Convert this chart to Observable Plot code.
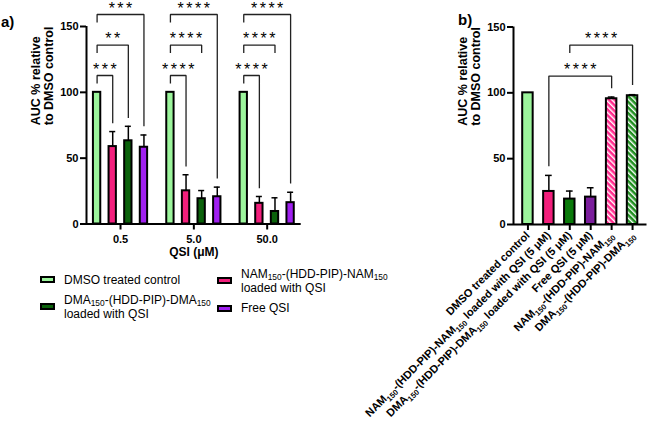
<!DOCTYPE html>
<html>
<head>
<meta charset="utf-8">
<script src="https://cdn.jsdelivr.net/npm/d3@7"></script>
<script src="https://cdn.jsdelivr.net/npm/@observablehq/plot@0.6"></script>
<style>
html, body { margin: 0; padding: 0; background: #fff; }
#wrap { position: relative; width: 649px; height: 421px; overflow: hidden; font-family: "Liberation Sans", Arial, sans-serif; color: #000; }
.panel { position: absolute; top: 0; }
.plab { position: absolute; font-weight: bold; font-size: 15px; line-height: 15px; }
.litem { position: absolute; height: 32px; display: flex; align-items: center; }
.sw { width: 15px; height: 7px; border: 2px solid #000; box-sizing: border-box; margin-right: 9px; flex: none; }
.ltxt { font-size: 12px; line-height: 14px; white-space: pre-line; }
.ltxt sub { font-size: 0.7em; vertical-align: -0.2em; line-height: 0; }
</style>
</head>
<body>
<div id="wrap"></div>
<script>
// ---------------- DATA ----------------
// Panel a
const groupsA = ["0.5", "5.0", "50.0"];
const seriesA = ["DMSO treated control",
                 "NAM₁₅₀-(HDD-PIP)-NAM₁₅₀ loaded with QSI",
                 "DMA₁₅₀-(HDD-PIP)-DMA₁₅₀ loaded with QSI",
                 "Free QSI"];
const legendLabelsA = ["DMSO treated control",
                       "NAM₁₅₀-(HDD-PIP)-NAM₁₅₀\nloaded with QSI",
                       "DMA₁₅₀-(HDD-PIP)-DMA₁₅₀\nloaded with QSI",
                       "Free QSI"];
const dmsoA = [100, 100, 100];
const dmsoSdA = [0, 0, 0];
const namA = [58.8, 25.2, 15.7];
const namSdA = [11.4, 12.2, 5.2];
const dmaA = [63.2, 19.2, 9.5];
const dmaSdA = [11.0, 6.2, 10.4];
const freeA = [58.3, 20.7, 16.2];
const freeSdA = [9.3, 7.3, 7.9];
const colorsA = ["#9cf59c", "#f21f7c", "#0b620b", "#a020f0"];
const yTicks = [0, 50, 100, 150];
const xTitleA = "QSI (μM)";
const yTitle = "AUC % relative\nto DMSO control";
// significance brackets panel a: group index, from/to series index, bracket level, right-leg end
const sigA = [
  {g: 0, from: 0, to: 1, level: 112.8, end: 76.5, label: "***"},
  {g: 0, from: 0, to: 2, level: 135.9, end: 80.6, label: "**"},
  {g: 0, from: 0, to: 3, level: 159.1, end: 74.3, label: "***"},
  {g: 1, from: 0, to: 1, level: 112.8, end: 43.7, label: "****"},
  {g: 1, from: 0, to: 2, level: 135.9, end: 129.9, label: "****"},
  {g: 1, from: 0, to: 3, level: 159.1, end: 34.5, label: "****"},
  {g: 2, from: 0, to: 1, level: 112.8, end: 27.2, label: "****"},
  {g: 2, from: 0, to: 2, level: 135.9, end: 129.9, label: "****"},
  {g: 2, from: 0, to: 3, level: 159.1, end: 30.8, label: "****"}
];

// Panel b
const categoriesB = ["DMSO treated control",
                     "NAM₁₅₀-(HDD-PIP)-NAM₁₅₀ loaded with QSI (5 μM)",
                     "DMA₁₅₀-(HDD-PIP)-DMA₁₅₀ loaded with QSI (5 μM)",
                     "Free QSI (5 μM)",
                     "NAM₁₅₀-(HDD-PIP)-NAM₁₅₀",
                     "DMA₁₅₀-(HDD-PIP)-DMA₁₅₀"];
const meanB = [100, 25.1, 19.3, 20.8, 95.5, 97.8];
const sdB = [0, 12.2, 6.1, 7.1, 1.3, 0.8];
const fillB = ["#9cf59c", "#f21f7c", "#0a7a0a", "#7b1e9c", "url(#hatchPink)", "url(#hatchGreen)"];
const sigB = [
  {from: 1, to: 4, level: 112.7, start: 44.2, end: 103.4, label: "****"},
  {from: 2, to: 5, level: 136.3, start: 130.2, end: 105.9, label: "****"}
];

// ---------------- LAYOUT / STYLE ----------------
const FONT = "'Liberation Sans', Arial, sans-serif";
const xDomA = [-0.464, 2.464];
const stepA = 0.213, hwA = 0.05, capA = 0.041, legA = 6;
const xDomB = [-0.69, 5.69];
const hwB = 0.25, capB = 0.16;
const ns = "http://www.w3.org/2000/svg";
const SUBS = "₀₁₂₃₄₅₆₇₈₉";

function subify(svg) {
  const walker = document.createTreeWalker(svg, NodeFilter.SHOW_TEXT);
  const nodes = [];
  while (walker.nextNode()) nodes.push(walker.currentNode);
  for (const n of nodes) {
    const s = n.nodeValue;
    if (!/[₀-₉]/.test(s)) continue;
    const frag = document.createDocumentFragment();
    const re = /([₀-₉]+)|([^₀-₉]+)/g;
    let m, shifted = false;
    while ((m = re.exec(s))) {
      const t = document.createElementNS(ns, "tspan");
      if (m[1]) {
        t.textContent = [...m[1]].map(c => SUBS.indexOf(c)).join("");
        t.setAttribute("style", "font-size:70%");
        t.setAttribute("dy", "3");
        shifted = true;
      } else {
        t.textContent = m[2];
        if (shifted) { t.setAttribute("dy", "-3"); shifted = false; }
      }
      frag.appendChild(t);
    }
    n.parentNode.replaceChild(frag, n);
  }
}
function starSpacing(svg) {
  d3.select(svg).selectAll("text")
    .filter(function () { return /^\*+$/.test(this.textContent); })
    .style("letter-spacing", "2.5px");
}
function toHTML(s) {
  return s.replace(/[₀-₉]+/g, m => "<sub>" + [...m].map(c => SUBS.indexOf(c)).join("") + "</sub>");
}

const wrap = document.getElementById("wrap");

// ---------------- PANEL A ----------------
const seriesMeansA = [dmsoA, namA, dmaA, freeA];
const seriesSdsA = [dmsoSdA, namSdA, dmaSdA, freeSdA];
const bx = (g, s) => g + (s - 1.5) * stepA;
const rowsA = groupsA.flatMap((g, gi) => seriesA.map((s, si) => ({
  gi, si, x: bx(gi, si), mean: seriesMeansA[si][gi], sd: seriesSdsA[si][gi], fill: colorsA[si]
})));
const errA = rowsA.filter(d => d.sd > 0);
const bracketPtsA = sigA.flatMap((d, k) => {
  const x1 = bx(d.g, d.from), x2 = bx(d.g, d.to);
  return [{k, x: x1, y: d.level - legA}, {k, x: x1, y: d.level}, {k, x: x2, y: d.level}, {k, x: x2, y: d.end}];
});

const plotA = Plot.plot({
  width: 310, height: 265,
  marginLeft: 86, marginRight: 9.3, marginTop: 26, marginBottom: 41.5,
  x: {domain: xDomA, label: null},
  y: {domain: [0, 150], label: null},
  color: {type: "identity"},
  style: {background: "transparent", fontFamily: FONT, color: "#000", overflow: "visible"},
  marks: [
    Plot.rectY(rowsA, {x1: d => d.x - hwA, x2: d => d.x + hwA, y1: 0, y2: "mean", fill: "fill", stroke: "#000", strokeWidth: 2}),
    Plot.ruleX(errA, {x: "x", y1: "mean", y2: d => d.mean + d.sd, stroke: "#000", strokeWidth: 1.5}),
    Plot.ruleY(errA, {y: d => d.mean + d.sd, x1: d => d.x - capA, x2: d => d.x + capA, stroke: "#000", strokeWidth: 1.5}),
    Plot.ruleY([0], {stroke: "#000", strokeWidth: 2}),
    Plot.ruleX([xDomA[0]], {y1: 0, y2: 150, stroke: "#000", strokeWidth: 2}),
    Plot.axisY({ticks: yTicks, tickSize: 6, tickPadding: 2, fontSize: 11, fontWeight: "bold", strokeWidth: 2, label: null}),
    Plot.axisX({ticks: [0, 1, 2], tickFormat: i => groupsA[i], tickSize: 6, tickPadding: 5, fontSize: 11, fontWeight: "bold", strokeWidth: 2, label: null}),
    Plot.line(bracketPtsA, {x: "x", y: "y", z: "k", stroke: "#222", strokeWidth: 1.3, strokeLinejoin: "miter", strokeLinecap: "butt"}),
    Plot.text(sigA, {x: d => (bx(d.g, d.from) + bx(d.g, d.to)) / 2, y: "level", text: "label", dy: -6, dx: 1.2, fontSize: 16, fill: "#000"}),
    Plot.text([yTitle], {frameAnchor: "left", dx: -44, rotate: -90, fontSize: 12.5, fontWeight: "bold", lineHeight: 1.05, fill: "#000"}),
    Plot.text([xTitleA], {frameAnchor: "bottom", dy: 31.5, fontSize: 12, fontWeight: "bold", fill: "#000"})
  ]
});
subify(plotA); starSpacing(plotA);
const divA = document.createElement("div");
divA.className = "panel"; divA.style.left = "0px"; divA.style.width = "310px";
divA.appendChild(plotA);
wrap.appendChild(divA);

// ---------------- PANEL B ----------------
const rowsB = categoriesB.map((c, i) => ({x: i, mean: meanB[i], sd: sdB[i], fill: fillB[i]}));
const errB = rowsB.filter(d => d.sd > 0);
const bracketPtsB = sigB.flatMap((d, k) => [
  {k, x: d.from, y: d.start}, {k, x: d.from, y: d.level}, {k, x: d.to, y: d.level}, {k, x: d.to, y: d.end}
]);

const plotB = Plot.plot({
  width: 319, height: 421,
  marginLeft: 183, marginRight: 2.5, marginTop: 26.5, marginBottom: 197,
  x: {domain: xDomB, label: null},
  y: {domain: [0, 150], label: null},
  color: {type: "identity"},
  style: {background: "transparent", fontFamily: FONT, color: "#000", overflow: "visible"},
  marks: [
    Plot.rectY(rowsB, {x1: d => d.x - hwB, x2: d => d.x + hwB, y1: 0, y2: "mean", fill: "fill", stroke: "#000", strokeWidth: 2}),
    Plot.ruleX(errB, {x: "x", y1: "mean", y2: d => d.mean + d.sd, stroke: "#000", strokeWidth: 1.5}),
    Plot.ruleY(errB, {y: d => d.mean + d.sd, x1: d => d.x - capB, x2: d => d.x + capB, stroke: "#000", strokeWidth: 1.5}),
    Plot.ruleY([0], {stroke: "#000", strokeWidth: 2}),
    Plot.ruleX([xDomB[0]], {y1: 0, y2: 150, stroke: "#000", strokeWidth: 2}),
    Plot.axisY({ticks: yTicks, tickSize: 6, tickPadding: 2, fontSize: 11, fontWeight: "bold", strokeWidth: 2, label: null}),
    Plot.axisX({ticks: d3.range(categoriesB.length), tickFormat: i => categoriesB[i], tickRotate: -45, tickSize: 6, tickPadding: 3, fontSize: 11, fontWeight: "bold", strokeWidth: 2, label: null}),
    Plot.line(bracketPtsB, {x: "x", y: "y", z: "k", stroke: "#222", strokeWidth: 1.3, strokeLinejoin: "miter", strokeLinecap: "butt"}),
    Plot.text(sigB, {x: d => (d.from + d.to) / 2, y: "level", text: "label", dy: -6, dx: 1.2, fontSize: 16, fill: "#000"}),
    Plot.text([yTitle], {frameAnchor: "left", dx: -44, rotate: -90, fontSize: 12.5, fontWeight: "bold", lineHeight: 1.05, fill: "#000"})
  ]
});
// hatch patterns
const defs = document.createElementNS(ns, "defs");
defs.innerHTML =
  '<pattern id="hatchPink" patternUnits="userSpaceOnUse" width="4" height="4" patternTransform="rotate(-45)">' +
  '<rect width="4" height="4" fill="#ff2a8c"/><rect width="1.4" height="4" fill="#ffffff"/></pattern>' +
  '<pattern id="hatchGreen" patternUnits="userSpaceOnUse" width="4" height="4" patternTransform="rotate(-45)">' +
  '<rect width="4" height="4" fill="#1f8f1f"/><rect width="1.4" height="4" fill="#ffffff"/></pattern>';
plotB.insertBefore(defs, plotB.firstChild);
subify(plotB); starSpacing(plotB);
const divB = document.createElement("div");
divB.className = "panel"; divB.style.left = "330px"; divB.style.width = "319px";
divB.appendChild(plotB);
wrap.appendChild(divB);

// ---------------- LEGEND (panel a) ----------------
const legendPos = [[40, 279.5], [217, 280.5], [40, 306.5], [217, 308]];
legendLabelsA.forEach((lab, i) => {
  const item = document.createElement("div");
  item.className = "litem";
  item.style.left = legendPos[i][0] + "px";
  item.style.top = (legendPos[i][1] - 16) + "px";
  const sw = document.createElement("div");
  sw.className = "sw"; sw.style.background = colorsA[i];
  const tx = document.createElement("div");
  tx.className = "ltxt"; tx.innerHTML = toHTML(lab);
  item.appendChild(sw); item.appendChild(tx);
  wrap.appendChild(item);
});

// ---------------- PANEL LABELS ----------------
[["a)", 1, 13.5], ["b)", 458, 12.2]].forEach(([t, l, tp]) => {
  const d = document.createElement("div");
  d.className = "plab"; d.textContent = t;
  d.style.left = l + "px"; d.style.top = tp + "px";
  wrap.appendChild(d);
});
</script>
</body>
</html>
